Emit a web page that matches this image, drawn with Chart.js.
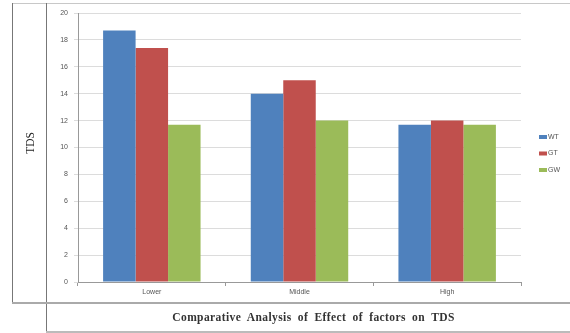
<!DOCTYPE html>
<html>
<head>
<meta charset="utf-8">
<script src="https://cdn.jsdelivr.net/npm/chart.js@4.4.0/dist/chart.umd.min.js"></script>
<style>
  body { margin: 0; background: #fff; }
  #wrap { position: relative; width: 570px; height: 333px; overflow: hidden; }
  #wrap canvas { position: absolute; left: 0; top: 0; }
  .ln { position: absolute; }
  .yt { position: absolute; left: 30px; top: 143px; transform: translate(-50%, -50%) rotate(-90deg);
        font: 11.5px "Liberation Serif", serif; color: #222; white-space: nowrap; }
  .cap { position: absolute; left: 52px; width: 523px; top: 311px; text-align: center;
         font: bold 11.5px "Liberation Serif", serif; color: #333; word-spacing: 3px; letter-spacing: 0.4px; }
</style>
</head>
<body>
<div id="wrap">
  <canvas id="chart" width="570" height="333"></canvas>
  <!-- table lines round the figure -->
  <div class="ln" style="left:12px;top:3px;width:558px;height:1px;background:#c8c8c8"></div>
  <div class="ln" style="left:12px;top:3px;width:1px;height:301px;background:#777"></div>
  <div class="ln" style="left:46px;top:3px;width:1px;height:329px;background:#777"></div>
  <div class="ln" style="left:12px;top:302px;width:558px;height:2px;background:#aaa"></div>
  <div class="ln" style="left:46px;top:331px;width:524px;height:2px;background:#bbb"></div>
  <div class="yt">TDS</div>
  <div class="cap">Comparative Analysis of Effect of factors on TDS</div>
</div>
<script>
// data
const categories = ['Lower', 'Middle', 'High'];
const seriesNames = ['WT', 'GT', 'GW'];
const wtValues = [18.7, 14.0, 11.7];
const gtValues = [17.4, 15.0, 12.0];
const gwValues = [11.7, 12.0, 11.7];
const yTicks = [0, 2, 4, 6, 8, 10, 12, 14, 16, 18, 20];

const colors = ['#4F81BD', '#C0504D', '#9BBB59'];

// legend drawn at the right like the original
const sideLegend = {
  id: 'sideLegend',
  afterDraw(chart) {
    const ctx = chart.ctx;
    ctx.save();
    ctx.font = '7px "Liberation Sans", Arial, sans-serif';
    ctx.textBaseline = 'middle';
    chart.data.datasets.forEach((ds, i) => {
      const y = 137 + i * 16.5;
      ctx.fillStyle = ds.backgroundColor;
      ctx.fillRect(539, y - 2, 8, 4);
      ctx.fillStyle = '#555';
      ctx.fillText(ds.label, 548, y);
    });
    ctx.restore();
  }
};

const ctx = document.getElementById('chart').getContext('2d');
new Chart(ctx, {
  type: 'bar',
  data: {
    labels: categories,
    datasets: [
      { label: seriesNames[0], data: wtValues, backgroundColor: colors[0] },
      { label: seriesNames[1], data: gtValues, backgroundColor: colors[1] },
      { label: seriesNames[2], data: gwValues, backgroundColor: colors[2] }
    ]
  },
  options: {
    responsive: false,
    animation: false,
    layout: { padding: { left: 48, top: 13, right: 49, bottom: 31 } },
    datasets: { bar: { categoryPercentage: 0.66, barPercentage: 1.0 } },
    plugins: { legend: { display: false }, tooltip: { enabled: false } },
    scales: {
      x: {
        afterFit(s) { s.height = 20; },
        grid: { offset: true, drawOnChartArea: false, tickLength: 4, color: '#999' },
        border: { color: '#999' },
        ticks: { font: { size: 7, family: 'Liberation Sans' }, color: '#555', padding: 2 }
      },
      y: {
        min: 0, max: 20,
        afterFit(s) { s.width = 30; },
        afterBuildTicks(s) { s.ticks = yTicks.map(v => ({ value: v })); },
        grid: { color: '#dcdcdc', tickLength: 4, lineWidth: 1 },
        border: { color: '#999' },
        ticks: { font: { size: 7, family: 'Liberation Sans' }, color: '#555', padding: 6 }
      }
    }
  },
  plugins: [sideLegend]
});
</script>
</body>
</html>
